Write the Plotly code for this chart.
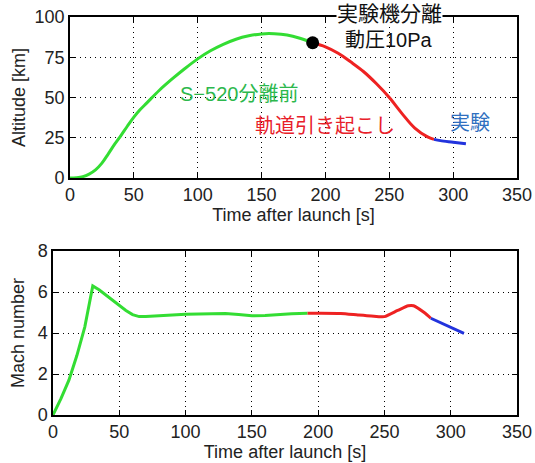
import plotly.graph_objects as go

# ---- Altitude data ----
t_alt_green = [0, 5, 10, 15, 20, 25, 30, 35, 40, 45, 50, 55, 60, 70, 80, 90, 100, 110, 120, 130, 140, 150, 160, 170, 180, 190]
alt_green = [0, 0.2, 0.8, 2.4, 5, 9.2, 15, 21, 26.5, 32.3, 37.8, 42.5, 46.5, 54.5, 61.5, 68, 74, 79, 83, 86.2, 88.3, 89.5, 89.6, 88.8, 86.8, 84]
t_alt_red = [190, 200, 210, 220, 230, 240, 250, 260, 270, 280, 285]
alt_red = [84, 81.5, 77.5, 72, 66, 58.5, 50, 40, 31, 25.5, 24]
t_alt_blue = [285, 290, 300, 310]
alt_blue = [24, 23.2, 22.2, 21.2]
sep_time = [190]
sep_alt = [84]

# ---- Mach data ----
t_mach_green = [0, 6, 12, 18, 24, 28, 30, 35, 40, 45, 50, 55, 60, 65, 70, 80, 90, 100, 110, 120,
                130, 140, 150, 160, 170, 180, 192]
mach_green = [0, 0.8, 1.7, 2.9, 4.3, 5.7, 6.3, 6.1, 5.85, 5.6, 5.35, 5.1, 4.9, 4.8, 4.8, 4.85, 4.9,
              4.92, 4.93, 4.95, 4.95, 4.9, 4.84, 4.85, 4.9, 4.94, 4.96]
t_mach_red = [192, 200, 217, 230, 240, 250, 260, 268, 272, 280, 285]
mach_red = [4.96, 4.96, 4.95, 4.88, 4.83, 4.8, 5.1, 5.33, 5.33, 5.0, 4.72]
t_mach_blue = [285, 295, 305, 310]
mach_blue = [4.72, 4.42, 4.15, 3.98]

x_ticks = [0, 50, 100, 150, 200, 250, 300, 350]
alt_ticks = [0, 25, 50, 75, 100]
mach_ticks = [0, 2, 4, 6, 8]

GREEN = "#33dd33"
RED = "#ee2222"
BLUE = "#2233dd"
LATIN = "Liberation Sans, Arial, sans-serif"
CJK = "Liberation Sans, Noto Sans CJK JP, sans-serif"

fig = go.Figure()
lw = 3
fig.add_trace(go.Scatter(x=t_alt_green, y=alt_green, mode="lines", line=dict(color=GREEN, width=lw, shape="spline"), xaxis="x", yaxis="y"))
fig.add_trace(go.Scatter(x=t_alt_red, y=alt_red, mode="lines", line=dict(color=RED, width=lw, shape="spline"), xaxis="x", yaxis="y"))
fig.add_trace(go.Scatter(x=t_alt_blue, y=alt_blue, mode="lines", line=dict(color=BLUE, width=lw, shape="spline"), xaxis="x", yaxis="y"))
fig.add_trace(go.Scatter(x=sep_time, y=sep_alt, mode="markers", marker=dict(color="black", size=13), xaxis="x", yaxis="y"))

fig.add_trace(go.Scatter(x=t_mach_green, y=mach_green, mode="lines", line=dict(color=GREEN, width=lw), xaxis="x2", yaxis="y2"))
fig.add_trace(go.Scatter(x=t_mach_red, y=mach_red, mode="lines", line=dict(color=RED, width=lw, shape="spline", smoothing=0.6), xaxis="x2", yaxis="y2"))
fig.add_trace(go.Scatter(x=t_mach_blue, y=mach_blue, mode="lines", line=dict(color=BLUE, width=lw), xaxis="x2", yaxis="y2"))

axis_common = dict(
    showline=True, linecolor="black", linewidth=1.5, mirror="allticks",
    ticks="inside", ticklen=5, tickcolor="black", tickwidth=1,
    showgrid=True, gridcolor="black", gridwidth=1, griddash="1px,4px",
    zeroline=False, tickfont=dict(family=LATIN, size=18, color="#222"),
    automargin=False,
)

fig.update_layout(
    width=535, height=463,
    margin=dict(l=53, r=18, t=17, b=48),
    paper_bgcolor="white", plot_bgcolor="white",
    showlegend=False,
    xaxis=dict(domain=[0.0366, 1], range=[0, 350], tickvals=x_ticks, anchor="y",
               title=dict(text="Time after launch [s]", font=dict(family=LATIN, size=18, color="#222"), standoff=2),
               **axis_common),
    yaxis=dict(domain=[0.5955, 1], range=[0, 100], tickvals=alt_ticks, anchor="x",
               title=dict(text="Altitude [km]", font=dict(family=LATIN, size=18, color="#222"), standoff=4),
               **axis_common),
    xaxis2=dict(domain=[0, 1], range=[0, 350], tickvals=x_ticks, anchor="y2",
                title=dict(text="Time after launch [s]", font=dict(family=LATIN, size=18, color="#222"), standoff=2),
                **axis_common),
    yaxis2=dict(domain=[0, 0.412], range=[0, 8], tickvals=mach_ticks, anchor="x2",
                title=dict(text="Mach number", font=dict(family=LATIN, size=18, color="#222"), standoff=8),
                **axis_common),
)

ann = [
    dict(x=132, y=52, text="S−520分離前", color="#2db84d"),
    dict(x=200, y=32, text="軌道引き起こし", color="#e8202a"),
    dict(x=313, y=34, text="実験", color="#2f6fc0"),
    dict(x=250, y=85.5, text="動圧10Pa", color="#111"),
]
for a in ann:
    fig.add_annotation(x=a["x"], y=a["y"], xref="x", yref="y", text=a["text"], showarrow=False,
                       xanchor="center", yanchor="middle",
                       font=dict(family=CJK, size=20, color=a["color"]))
fig.add_annotation(x=250, y=1.02, xref="x", yref="y domain", text="実験機分離", showarrow=False,
                   xanchor="center", yanchor="middle",
                   bgcolor="white", borderpad=0,
                   font=dict(family=CJK, size=21, color="#111"))

fig.write_html("out.html", config={"displayModeBar": False},
               post_script="document.body.style.margin='0';")
